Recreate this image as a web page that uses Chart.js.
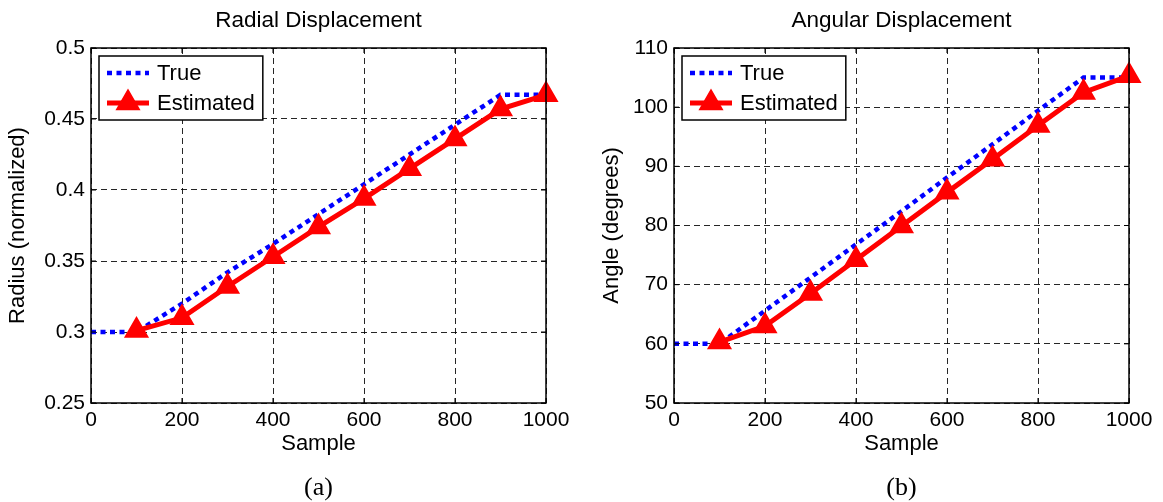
<!DOCTYPE html>
<html>
<head>
<meta charset="utf-8">
<script src="https://cdn.jsdelivr.net/npm/chart.js@4"></script>
<style>
  html, body { margin: 0; padding: 0; background: #fff; }
  .panel { position: absolute; top: 0; width: 581px; height: 502px; }
  #panelA { left: 0; }
  #panelB { left: 582px; }
</style>
</head>
<body>
<div class="panel" id="panelA"><canvas id="radialChart" width="581" height="502"></canvas></div>
<div class="panel" id="panelB"><canvas id="angularChart" width="581" height="502"></canvas></div>
<script>
// Sample positions
const samples = [0, 100, 200, 300, 400, 500, 600, 700, 800, 900, 1000];
const estSamples = [100, 200, 300, 400, 500, 600, 700, 800, 900, 1000];

// Radial displacement (normalized radius)
const radiusTrue = [0.300, 0.300, 0.320, 0.342, 0.362, 0.383, 0.404, 0.425, 0.446, 0.467, 0.467];
const radiusEst = [0.301, 0.310, 0.332, 0.353, 0.374, 0.394, 0.415, 0.436, 0.457, 0.467];

// Angular displacement (degrees)
const angleTrue = [60, 60, 65.6, 71.2, 76.8, 82.4, 88.1, 93.7, 99.4, 105.0, 105.0];
const angleEst = [60.3, 63.0, 68.5, 74.2, 79.9, 85.6, 91.2, 96.9, 102.5, 105.3];

const seriesLabels = ['True', 'Estimated'];
const FONT = '"Liberation Sans", Arial, Helvetica, sans-serif';

// Frame, inner tick marks and boxed legend (MATLAB style)
const matlabFrame = {
    id: 'matlabFrame',
    afterDraw(chart) {
        const { ctx, chartArea: a, scales } = chart;
        ctx.save();
        ctx.strokeStyle = '#000';
        ctx.lineWidth = 1.5;
        ctx.setLineDash([]);
        ctx.strokeRect(a.left, a.top, a.width, a.height);

        // inward ticks on all four sides
        ctx.lineWidth = 1;
        ctx.beginPath();
        scales.x.ticks.forEach(t => {
            const px = scales.x.getPixelForValue(t.value);
            ctx.moveTo(px, a.bottom); ctx.lineTo(px, a.bottom - 5);
            ctx.moveTo(px, a.top); ctx.lineTo(px, a.top + 5);
        });
        scales.y.ticks.forEach(t => {
            const py = scales.y.getPixelForValue(t.value);
            ctx.moveTo(a.left, py); ctx.lineTo(a.left + 5, py);
            ctx.moveTo(a.right, py); ctx.lineTo(a.right - 5, py);
        });
        ctx.stroke();

        // legend box
        const sets = chart.data.datasets;
        ctx.font = '22px ' + FONT;
        const textW = Math.max(...sets.map(d => ctx.measureText(d.label).width));
        const bx = a.left + 8, by = a.top + 8;
        const bw = 8 + 42 + 8 + textW + 8, bh = 64;
        ctx.fillStyle = '#fff';
        ctx.fillRect(bx, by, bw, bh);
        ctx.strokeStyle = '#000';
        ctx.lineWidth = 1.5;
        ctx.strokeRect(bx, by, bw, bh);

        sets.forEach((d, i) => {
            const y = by + 17 + i * 30;
            ctx.beginPath();
            ctx.setLineDash(d.borderDash || []);
            ctx.lineWidth = d.borderWidth;
            ctx.strokeStyle = d.borderColor;
            ctx.moveTo(bx + 8, y);
            ctx.lineTo(bx + 50, y);
            ctx.stroke();
            ctx.setLineDash([]);
            if (d.pointRadius) {
                const r = d.pointRadius, cx = bx + 29;
                ctx.beginPath();
                ctx.moveTo(cx, y - r);
                ctx.lineTo(cx + r * Math.sqrt(3) / 2, y + r / 2);
                ctx.lineTo(cx - r * Math.sqrt(3) / 2, y + r / 2);
                ctx.closePath();
                ctx.fillStyle = d.pointBackgroundColor;
                ctx.fill();
                ctx.lineWidth = d.pointBorderWidth;
                ctx.strokeStyle = d.pointBorderColor;
                ctx.stroke();
            }
            ctx.fillStyle = '#000';
            ctx.textBaseline = 'middle';
            ctx.textAlign = 'left';
            ctx.fillText(d.label, bx + 58, y + 1);
        });
        ctx.restore();
    }
};

function toPoints(xs, ys) {
    return xs.map((x, i) => ({ x: x, y: ys[i] }));
}

function initDisplacementChart(canvasId, opts) {
    const ctx = document.getElementById(canvasId).getContext('2d');
    return new Chart(ctx, {
        type: 'line',
        data: {
            datasets: [{
                label: seriesLabels[0],
                data: toPoints(samples, opts.trueValues),
                borderColor: '#0000ff',
                borderWidth: 4.5,
                borderDash: [5, 4.5],
                pointRadius: 0,
                fill: false,
                clip: false,
                order: 1
            }, {
                label: seriesLabels[1],
                data: toPoints(estSamples, opts.estValues),
                borderColor: '#ff0000',
                borderWidth: 5,
                pointStyle: 'triangle',
                pointRadius: 12.5,
                pointBackgroundColor: '#ff0000',
                pointBorderColor: '#ff0000',
                pointBorderWidth: 2,
                fill: false,
                clip: false,
                order: 0
            }]
        },
        options: {
            responsive: false,
            animation: false,
            layout: { padding: { left: 0, right: opts.rightPad, top: 0, bottom: 0 } },
            plugins: {
                legend: { display: false },
                tooltip: { enabled: false },
                title: {
                    display: true,
                    text: opts.title,
                    fullSize: false,
                    color: '#000',
                    font: { family: FONT, size: 22.5, weight: 'normal' },
                    padding: { top: 7.5, bottom: 13.5 }
                },
                subtitle: {
                    display: true,
                    position: 'bottom',
                    text: opts.panel,
                    fullSize: false,
                    color: '#000',
                    font: { family: '"Liberation Serif", "Times New Roman", serif', size: 26, lineHeight: 1 },
                    padding: { top: 14, bottom: 1 }
                }
            },
            scales: {
                x: {
                    type: 'linear',
                    min: 0,
                    max: 1000,
                    afterFit: s => { s.height = 58; },
                    ticks: {
                        stepSize: 200,
                        color: '#000',
                        padding: 5,
                        maxRotation: 0,
                        autoSkip: false,
                        font: { family: FONT, size: 21 },
                        callback: v => String(v)
                    },
                    grid: {
                        color: 'rgba(0,0,0,0.85)',
                        lineWidth: 1,
                        drawTicks: false
                    },
                    border: { display: false, dash: [6, 4] },
                    title: {
                        display: true,
                        text: 'Sample',
                        color: '#000',
                        font: { family: FONT, size: 22 },
                        padding: { top: 0, bottom: 3.8 }
                    }
                },
                y: {
                    min: opts.yMin,
                    max: opts.yMax,
                    afterFit: s => { s.width = opts.yWidth; },
                    ticks: {
                        stepSize: opts.yStep,
                        color: '#000',
                        padding: 6,
                        autoSkip: false,
                        font: { family: FONT, size: 21 },
                        callback: v => String(+v.toFixed(2))
                    },
                    grid: {
                        color: 'rgba(0,0,0,0.85)',
                        lineWidth: 1,
                        drawTicks: false
                    },
                    border: { display: false, dash: [6, 4] },
                    title: {
                        display: true,
                        text: opts.yTitle,
                        color: '#000',
                        font: { family: FONT, size: 22 },
                        padding: { top: opts.yTitlePad, bottom: 0 }
                    }
                }
            }
        },
        plugins: [matlabFrame]
    });
}

initDisplacementChart('radialChart', {
    title: 'Radial Displacement',
    panel: '(a)',
    yTitle: 'Radius (normalized)',
    trueValues: radiusTrue,
    estValues: radiusEst,
    yMin: 0.25, yMax: 0.5, yStep: 0.05,
    yWidth: 91, yTitlePad: 5, rightPad: 35
});

initDisplacementChart('angularChart', {
    title: 'Angular Displacement',
    panel: '(b)',
    yTitle: 'Angle (degrees)',
    trueValues: angleTrue,
    estValues: angleEst,
    yMin: 50, yMax: 110, yStep: 10,
    yWidth: 92, yTitlePad: 17, rightPad: 34
});
</script>
</body>
</html>
